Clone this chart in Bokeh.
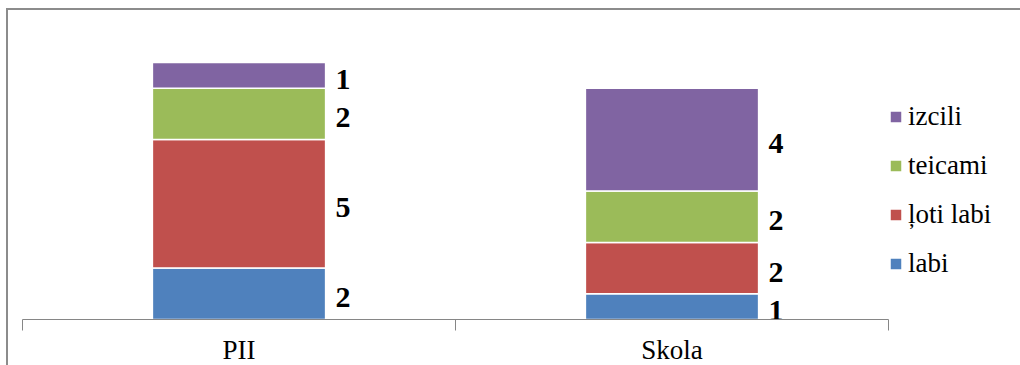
from bokeh.plotting import figure
from bokeh.models import (Range1d, FixedTicker, Legend, LegendItem,
                          ColumnDataSource, LinearAxis)
from bokeh.layouts import column
from bokeh.core.properties import value
from bokeh.embed import file_html
from bokeh.resources import INLINE

# ---- data ----
categories = ["PII", "Skola"]
series_keys = ["labi", "loti_labi", "teicami", "izcili"]
series_names = ["labi", "ļoti labi", "teicami", "izcili"]
labi = [2, 1]
loti_labi = [5, 2]
teicami = [2, 2]
izcili = [1, 4]
colors = ["#4F81BD", "#C0504D", "#9BBB59", "#8064A2"]

values = {"labi": labi, "loti_labi": loti_labi, "teicami": teicami, "izcili": izcili}

FONT = "Liberation Serif"
GRAY = "#868686"

xs = [i + 0.5 for i in range(len(categories))]
bar_w = 0.4

p = figure(frame_width=866, frame_height=309,
           x_range=Range1d(0, len(categories)), y_range=Range1d(0, 12.02),
           x_axis_type=None, y_axis_type=None,
           output_backend="svg", toolbar_location=None)
p.min_border_left = 14
p.min_border_right = 0
p.min_border_top = 0
p.min_border_bottom = 0
p.outline_line_color = None
p.xgrid.visible = False
p.ygrid.visible = False
p.background_fill_color = "white"
p.border_fill_color = "white"

src = ColumnDataSource(dict(x=xs, **values))
rs = p.vbar_stack(series_keys, x="x", width=bar_w, color=colors,
                  line_color="white", line_width=1.5, source=src)

# data labels
lx, ly, lt = [], [], []
for i in range(len(categories)):
    bottom = 0
    for k in series_keys:
        v = values[k][i]
        lx.append(xs[i] + bar_w / 2)
        ly.append(bottom + v / 2)
        lt.append(str(v))
        bottom += v
p.text(x=lx, y=ly, text=lt, x_offset=10, y_offset=4,
       text_font=value(FONT), text_font_style="bold", text_font_size="30px",
       text_align="left", text_baseline="middle", text_color="black")

# category axis with ticks between categories
ax = LinearAxis(ticker=FixedTicker(ticks=xs, minor_ticks=list(range(len(categories) + 1))))
ax.major_label_overrides = {x: c for x, c in zip(xs, categories)}
ax.major_tick_out = 0
ax.major_tick_in = 0
ax.minor_tick_out = 11
ax.minor_tick_in = 0
ax.axis_line_color = GRAY
ax.minor_tick_line_color = GRAY
ax.major_label_standoff = 4
ax.major_label_text_font = FONT
ax.major_label_text_font_size = "27px"
ax.major_label_text_color = "black"
p.add_layout(ax, "below")

items = [LegendItem(label=series_names[i], renderers=[rs[i]])
         for i in reversed(range(len(series_keys)))]
legend = Legend(items=items, location=(0, 40), glyph_width=15, glyph_height=15,
                label_standoff=5, spacing=18, label_height=24, padding=5, margin=0,
                border_line_color=None, background_fill_alpha=0,
                label_text_font=FONT, label_text_font_size="27px",
                label_text_color="black")
p.add_layout(legend, "right")

layout = column(p, styles={"margin-top": "8px", "margin-left": "6px",
                           "border-top": "2px solid #8c8c8c",
                           "border-left": "2px solid #8c8c8c"})

open("out.html", "w").write(file_html(layout, INLINE))
